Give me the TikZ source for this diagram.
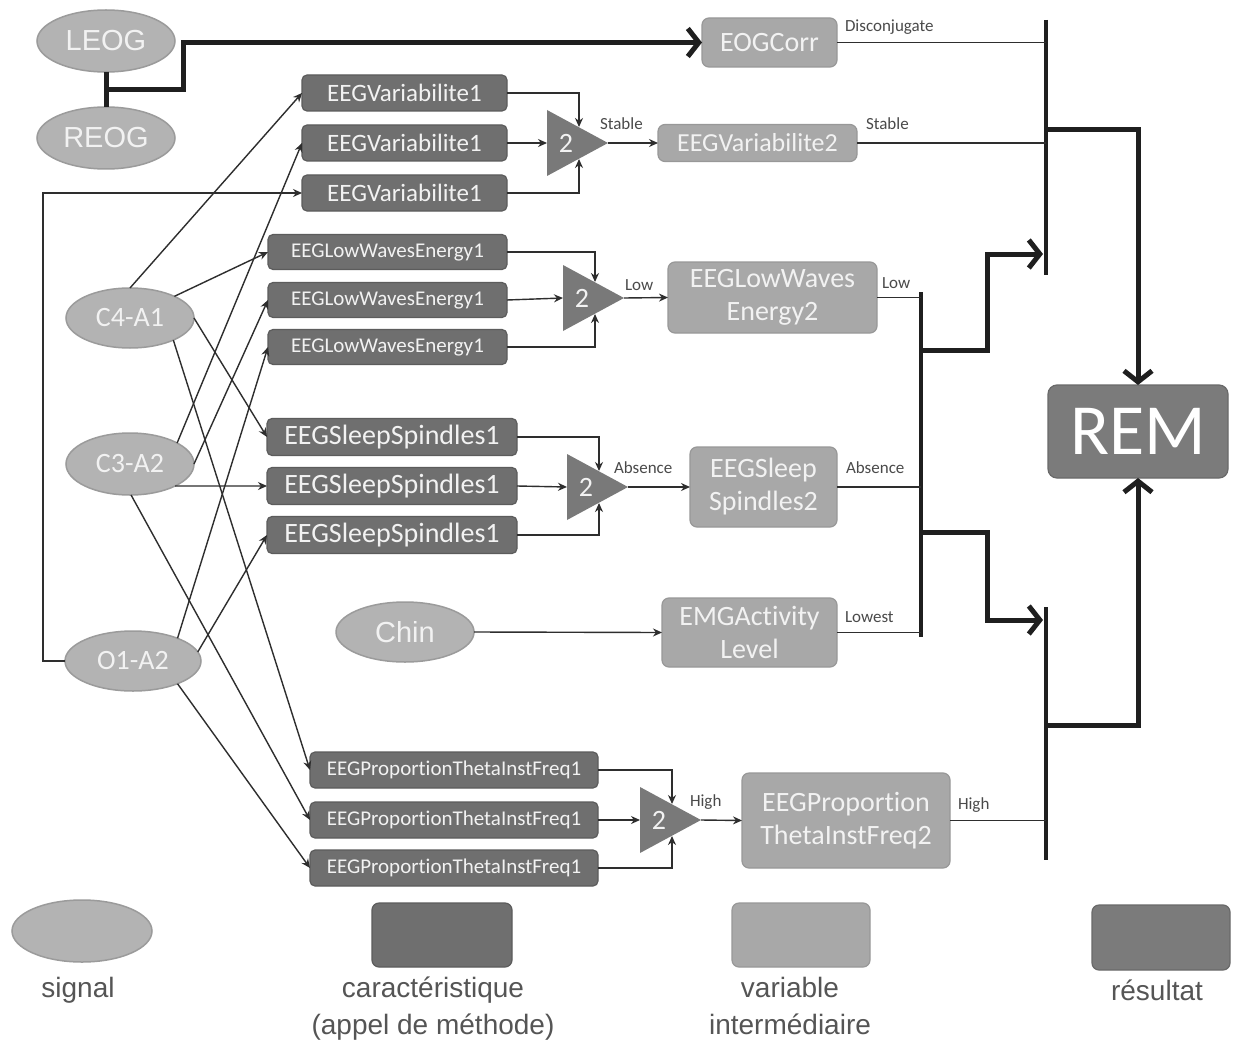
\documentclass[tikz,border=0pt]{standalone}
\usepackage{fontspec}
\setmainfont{Carlito}[Ligatures={NoCommon}]
\newfontfamily\arialfont{Liberation Sans}
\usetikzlibrary{arrows.meta,shapes.geometric,calc}

\definecolor{featfill}{HTML}{6F6F6F}
\definecolor{featdraw}{HTML}{5C5C5C}
\definecolor{varfill}{HTML}{A8A8A8}
\definecolor{vardraw}{HTML}{989898}
\definecolor{sigfill}{HTML}{B3B3B3}
\definecolor{sigdraw}{HTML}{9B9B9B}
\definecolor{resfill}{HTML}{7B7B7B}
\definecolor{gatefill}{HTML}{797979}
\definecolor{boxtext}{HTML}{F2F2F2}
\definecolor{wirecol}{HTML}{2E2E2E}
\definecolor{labeltext}{HTML}{4A4A4A}
\definecolor{legcol}{HTML}{555555}

% keeps t and i as separate glyphs
\newcommand\tisep{\kern0pt }

% majority gate: name, left x, centre y
\newcommand\mkgate[3]{%
  \fill[gatefill] (#2,#3-33) -- (#2+61,#3) -- (#2,#3+33) -- cycle;
  \node[gatetxt] (#1) at (#2+19,#3) {2};
  \coordinate (#1-w) at (#2,#3);
  \coordinate (#1-e) at (#2+61,#3);
  \coordinate (#1-n) at (#2+32,#3-16);
  \coordinate (#1-s) at (#2+32,#3+16);
}

\begin{document}
\begin{tikzpicture}[x=1pt,y=-1pt,
  every node/.style={inner sep=0pt, outer sep=0pt},
  sigbox/.style={ellipse, fill=sigfill, draw=sigdraw, line width=1.5pt, text=boxtext},
  featbox/.style={rectangle, rounded corners=5pt, fill=featfill, draw=featdraw, line width=1.2pt, text=boxtext},
  varbox/.style={rectangle, rounded corners=7pt, fill=varfill, draw=vardraw, line width=1.2pt, text=boxtext, align=center, font=\fontsize{28}{33}\selectfont},
  resbox/.style={rectangle, rounded corners=9pt, fill=resfill, draw=resfill!85!black, line width=1.2pt, text=white},
  gatetxt/.style={text=boxtext, font=\fontsize{28}{32}\selectfont},
  lbl/.style={text=labeltext, font=\fontsize{17}{20}\selectfont, anchor=west},
  wire/.style={draw=wirecol, line width=1.4pt},
  arr/.style={wire, -{Stealth[length=9pt,width=8pt]}},
  bus/.style={draw=black!88, line width=4pt},
  fat/.style={draw=black!88, line width=5pt},
  fatarr/.style={fat, -{Straight Barb[length=11pt,width=28pt]}},
  legtxt/.style={text=legcol, font=\arialfont\fontsize{28}{37}\selectfont, align=center},
]
\useasboundingbox[fill=white] (0,0) rectangle (1233,1043);

% ---------- signals ----------
\node[sigbox, minimum width=138, minimum height=62, font=\arialfont\fontsize{29}{32}\selectfont] (leog) at (106,41) {LEOG};
\node[sigbox, minimum width=138, minimum height=62, font=\arialfont\fontsize{29}{32}\selectfont] (reog) at (106,138) {REOG};
\node[sigbox, minimum width=128, minimum height=60, font=\fontsize{28}{32}\selectfont] (c4) at (130,318) {C4-A1};
\node[sigbox, minimum width=128, minimum height=62, font=\fontsize{28}{32}\selectfont] (c3) at (130,464) {C3-A2};
\node[sigbox, minimum width=136, minimum height=60, font=\fontsize{28}{32}\selectfont] (o1) at (133,661) {O1-A2};
\node[sigbox, minimum width=138, minimum height=60, font=\arialfont\fontsize{29}{32}\selectfont] (chin) at (405,632) {Chin};

% ---------- first-level features ----------
\foreach \n/\y in {v1/93, v2/143, v3/193}
  \node[featbox, minimum width=205, minimum height=36, font=\fontsize{25}{28}\selectfont] (\n) at (404.5,\y) {EEGVariabilite1};
\foreach \n/\y in {lw1/252, lw2/300, lw3/347}
  \node[featbox, minimum width=239, minimum height=35, font=\fontsize{21}{24}\selectfont] (\n) at (387.5,\y) {EEGLowWavesEnergy1};
\foreach \n/\y in {ss1/437, ss2/486, ss3/535}
  \node[featbox, minimum width=250, minimum height=37, font=\fontsize{28}{30}\selectfont] (\n) at (392,\y) {EEGSleepSpindles1};
\foreach \n/\y in {pt1/770, pt2/820, pt3/868}
  \node[featbox, minimum width=288, minimum height=36, font=\fontsize{21}{24}\selectfont] (\n) at (454,\y) {EEGPropor\tisep tionThetaInstFreq1};

% ---------- gates ----------
\mkgate{g1}{547}{143}
\mkgate{g2}{563}{298}
\mkgate{g3}{567}{487}
\mkgate{g4}{640}{820}

% ---------- intermediate variables ----------
\node[varbox, minimum width=135, minimum height=49] (eog) at (769.5,42.5) {EOGCorr};
\node[varbox, minimum width=199, minimum height=37, font=\fontsize{26}{30}\selectfont] (var2) at (757.5,143) {EEGVariabilite2};
\node[varbox, minimum width=209, minimum height=71] (lwv2) at (772.5,297.5) {EEGLowWaves\\Energy2};
\node[varbox, minimum width=147, minimum height=80] (ssv2) at (763.5,487) {EEGSleep\\Spindles2};
\node[varbox, minimum width=175, minimum height=69] (emg) at (749.5,632.5) {EMGAc\tisep tivity\\Level};
\node[varbox, minimum width=208, minimum height=95] (ptv2) at (846,820.5) {EEGPropor\tisep tion\\ThetaInstFreq2};

% ---------- result ----------
\node[resbox, minimum width=180, minimum height=93, font=\fontsize{72}{80}\selectfont] (rem) at (1138,431.5) {REM};

% ---------- signal to feature connectors ----------
\draw[arr] (c4.north) -- (v1.west);
\draw[arr] (c3.24) -- (v2.west);
\draw[arr] (o1.west) -- ++(-22,0) |- (v3.west);
\draw[arr] (c4.26) -- (lw1.west);
\draw[arr] (c3.east) -- (lw2.west);
\draw[arr] (o1.27) -- (lw3.west);
\draw[arr] (c4.east) -- (ss1.west);
\draw[arr] (c3.-26) -- (ss2.west);
\draw[arr] (o1.8) -- (ss3.west);
\draw[arr] (c4.-27) -- (pt1.west);
\draw[arr] (c3.-88) -- (pt2.west);
\draw[arr] (o1.-27) -- (pt3.west);
\draw[arr] (chin.east) -- (emg.west);

% ---------- features into gates ----------
\foreach \g/\a/\b/\c in {g1/v1/v2/v3, g2/lw1/lw2/lw3, g3/ss1/ss2/ss3, g4/pt1/pt2/pt3}{
  \draw[arr] (\a.east) -| (\g-n);
  \draw[arr] (\b.east) -- (\g-w);
  \draw[arr] (\c.east) -| (\g-s);
}
\draw[arr] (g1-e) -- (var2.west);
\draw[arr] (g2-e) -- (lwv2.west);
\draw[arr] (g3-e) -- (ssv2.west);
\draw[arr] (g4-e) -- (ptv2.west);

% ---------- value labels ----------
\node[lbl] (lDis) at (845,27) {Disconjugate};
\node[lbl] (lSt1) at (600,124) {Stable};
\node[lbl] (lSt2) at (866,124) {Stable};
\node[lbl] (lLo1) at (625,285) {Low};
\node[lbl] (lLo2) at (882,283) {Low};
\node[lbl] (lAb1) at (614,468) {Absence};
\node[lbl] (lAb2) at (846,468) {Absence};
\node[lbl] (lLw)  at (845,617) {Lowest};
\node[lbl] (lHi1) at (690,802) {High};
\node[lbl] (lHi2) at (958,805) {High};

% ---------- combining buses ----------
\coordinate (busA) at (1046,20);
\coordinate (busAend) at (1046,275);
\coordinate (busM) at (921,292);
\coordinate (busMend) at (921,637);
\coordinate (busB) at (1046,607);
\coordinate (busBend) at (1046,860);
\draw[bus] (busA) -- (busAend);
\draw[bus] (busM) -- (busMend);
\draw[bus] (busB) -- (busBend);

\draw[wire] (eog.east) -- (eog.east -| busA);
\draw[wire] (var2.east) -- (var2.east -| busA);
\draw[wire] (lwv2.east) -- (lwv2.east -| busM);
\draw[wire] (ssv2.east) -- (ssv2.east -| busM);
\draw[wire] (emg.east) -- (emg.east -| busM);
\draw[wire] (ptv2.east) -- (ptv2.east -| busB);

% ---------- thick connectors ----------
\coordinate (eogj) at ($(leog.south)!0.5!(reog.north)$);
\draw[fat] (leog.south) -- (reog.north);
\draw[fatarr] (eogj) -- ++(77,0) |- (eog.west);

\coordinate (mA) at (921,350);
\coordinate (tA) at (1043,254);
\draw[fatarr] (mA) -- ++(66,0) |- (tA);
\coordinate (mB) at (921,532);
\coordinate (tB) at (1043,620);
\draw[fatarr] (mB) -- ++(66,0) |- (tB);

\coordinate (aR) at (1046,130);
\draw[fatarr] (aR) -| (rem.north);
\coordinate (bR) at (1046,725);
\draw[fatarr] (bR) -| (rem.south);

% ---------- legend ----------
\node[sigbox, minimum width=140, minimum height=62] (lgsig) at (82,931) {};
\node[legtxt] (lgsigt) at (78,990) {signal};
\node[featbox, rounded corners=7pt, minimum width=140, minimum height=64] (lgfeat) at (442,935) {};
\node[legtxt, anchor=north] (lgfeatt) at (433,977) {caractéristique\\(appel de méthode)};
\node[varbox, minimum width=138, minimum height=64] (lgvar) at (801,935) {};
\node[legtxt, anchor=north] (lgvart) at (790,977) {variable\\intermédiaire};
\node[resbox, rounded corners=7pt, minimum width=138, minimum height=65] (lgres) at (1161,937.5) {};
\node[legtxt] (lgrest) at (1157,990) {résultat};
\end{tikzpicture}
\end{document}
